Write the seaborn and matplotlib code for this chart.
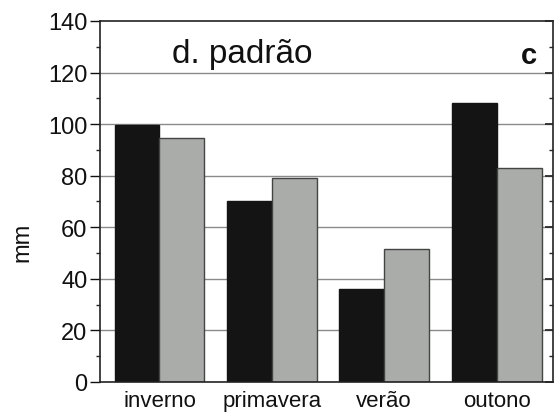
import pandas as pd
import matplotlib
matplotlib.use("Agg")
import matplotlib.pyplot as plt
import seaborn as sns
from matplotlib.ticker import MultipleLocator

# dados
estacoes = ["inverno", "primavera", "verão", "outono"]
serie_preta = [99.5, 70, 36, 108]
serie_cinza = [94.5, 79, 51.5, 83]

df = pd.DataFrame({
    "estacao": estacoes * 2,
    "valor": serie_preta + serie_cinza,
    "serie": ["a"] * 4 + ["b"] * 4,
})

sns.set_theme(style="white")
plt.rcParams["font.family"] = ["Liberation Sans", "DejaVu Sans"]

fig = plt.figure(figsize=(5.55, 4.14), dpi=100)
ax = fig.add_axes([0.180, 0.075, 0.816, 0.872])

# linhas de grade atrás das barras
for v in range(20, 140, 20):
    ax.axhline(v, color="#8a8a8a", lw=1.0, zorder=0)

sns.barplot(data=df, x="estacao", y="valor", hue="serie",
            palette=["#141414", "#a9aca9"], width=0.8, gap=0,
            saturation=1, legend=False, ax=ax, zorder=2)

for p, ec in zip(ax.patches, ["#141414"] * 4 + ["#444444"] * 4):
    p.set_edgecolor(ec)
    p.set_linewidth(1.0)

ax.set_xlim(-0.53, 3.5)
ax.set_ylim(0, 140)
ax.yaxis.set_major_locator(MultipleLocator(20))
ax.yaxis.set_minor_locator(MultipleLocator(10))
ax.tick_params(axis="y", which="major", direction="out", length=7, width=1,
               labelsize=17, colors="#111111", pad=2)
ax.tick_params(axis="y", which="minor", direction="out", length=3, width=1,
               left=True)
ax.tick_params(axis="x", length=0, labelsize=16, pad=6, colors="#111111")

ax.set_xlabel("")
ax.set_ylabel("")
ax.text(-0.172, 0.39, "mm", transform=ax.transAxes, rotation=90,
        fontsize=17, ha="center", va="center", color="#111111")

for s in ax.spines.values():
    s.set_visible(True)
    s.set_color("#222222")
    s.set_linewidth(1.2)

# marcas no eixo direito
ax2 = ax.twinx()
ax2.set_ylim(0, 140)
ax2.yaxis.set_major_locator(MultipleLocator(20))
ax2.yaxis.set_minor_locator(MultipleLocator(10))
ax2.tick_params(axis="y", which="both", direction="in", labelright=False,
                right=True)
ax2.tick_params(axis="y", which="major", length=6)
ax2.tick_params(axis="y", which="minor", length=3)
for s in ax2.spines.values():
    s.set_visible(False)

ax.text(0.16, 0.91, "d. padrão", transform=ax.transAxes, fontsize=24,
        va="center", ha="left", color="#111111")
ax.text(0.965, 0.905, "c", transform=ax.transAxes, fontsize=21,
        fontweight="bold", va="center", ha="right", color="#111111")

fig.savefig("out.png", dpi=100)
